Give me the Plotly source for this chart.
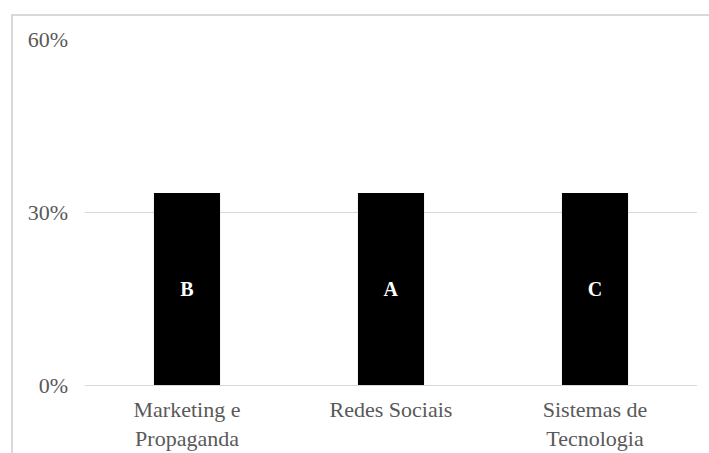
import plotly.graph_objects as go

categories = ["Marketing e<br>Propaganda", "Redes Sociais", "Sistemas de<br>Tecnologia"]
values = [0.333, 0.333, 0.333]
bar_labels = ["B", "A", "C"]
tick_vals = [0, 0.3, 0.6]
tick_text = ["0%", "30%", "60%"]

fig = go.Figure(go.Bar(
    x=categories, y=values, text=bar_labels,
    textposition="inside", insidetextanchor="middle",
    textfont=dict(family="Liberation Serif", size=20, color="white", weight="bold"),
    marker=dict(color="black", line=dict(width=0)),
    width=0.324,
))

fig.update_layout(
    width=709, height=453,
    margin=dict(l=85, r=12, t=39, b=68, autoexpand=False),
    paper_bgcolor="white", plot_bgcolor="white",
    showlegend=False,
    font=dict(family="Liberation Serif", size=22, color="#595959"),
    xaxis=dict(showgrid=False, showline=False, ticks="", ticklabelstandoff=9,
               automargin=False, tickfont=dict(size=22, color="#595959")),
    yaxis=dict(range=[0, 0.6], tickvals=tick_vals, ticktext=tick_text,
               showgrid=True, gridcolor="#d9d9d9", gridwidth=1,
               zeroline=True, zerolinecolor="#d9d9d9", zerolinewidth=1,
               showline=False, ticks="", ticklabelstandoff=16, automargin=False,
               tickfont=dict(size=22, color="#595959")),
    shapes=[dict(type="rect", xref="paper", yref="paper",
                 x0=(12 - 85) / 612, x1=1.2, y0=-0.5, y1=(385 - 15) / 346,
                 line=dict(color="#d9d9d9", width=2), layer="below")],
)

fig.write_html("out.html")
